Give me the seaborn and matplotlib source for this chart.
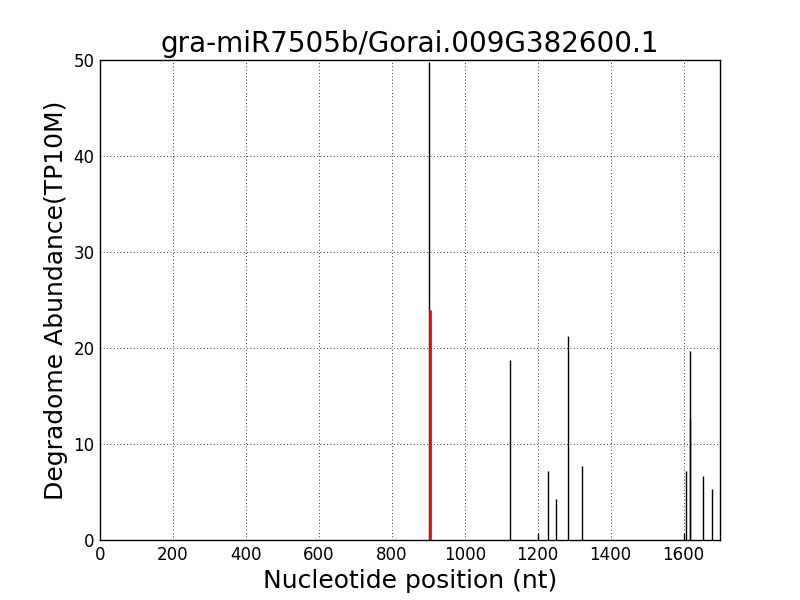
import matplotlib
matplotlib.use("Agg")
import matplotlib.pyplot as plt
import seaborn as sns
import pandas as pd

# degradome reads per position
positions = [903, 1124, 1202, 1229, 1251, 1284, 1321, 1601, 1607, 1618, 1619, 1653, 1678]
abundance = [49.8, 18.8, 0.7, 7.2, 4.3, 21.2, 7.7, 0.7, 7.2, 19.7, 12.6, 6.7, 5.3]

# predicted cleavage site
site_pos = [905]
site_abund = [24.0]

title = "gra-miR7505b/Gorai.009G382600.1"


def plot_degradome(df: pd.DataFrame, site: pd.DataFrame):
    sns.set_style("white")
    plt.rcParams['font.family'] = ['DejaVu Sans']
    for k in ['text.color', 'axes.labelcolor', 'xtick.color', 'ytick.color']:
        plt.rcParams[k] = 'black'
    fig, ax = plt.subplots(figsize=(8, 6), dpi=100)
    fig.subplots_adjust(left=0.125, right=0.9, bottom=0.1, top=0.9)

    ax.vlines(df['pos'], 0, df['abund'], color='black', linewidth=1)
    ax.vlines(site['pos'], 0, site['abund'], color='red', linewidth=2)

    ax.set_xlim(0, 1700)
    ax.set_ylim(0, 50)
    ax.set_xticks(range(0, 1700, 200))
    ax.set_yticks(range(0, 51, 10))
    ax.tick_params(labelsize=12, length=0, pad=4)
    ax.grid(True, color='black', linestyle=(0, (1, 3)), linewidth=0.6)
    for s in ax.spines.values():
        s.set_color('black')
        s.set_linewidth(1)

    ax.set_title(title, fontsize=20)
    ax.set_xlabel('Nucleotide position (nt)', fontsize=18)
    ax.set_ylabel('Degradome Abundance(TP10M)', fontsize=18)
    fig.savefig('out.png', dpi=100)
    plt.close(fig)


df = pd.DataFrame({'pos': positions, 'abund': abundance})
site = pd.DataFrame({'pos': site_pos, 'abund': site_abund})
plot_degradome(df, site)
